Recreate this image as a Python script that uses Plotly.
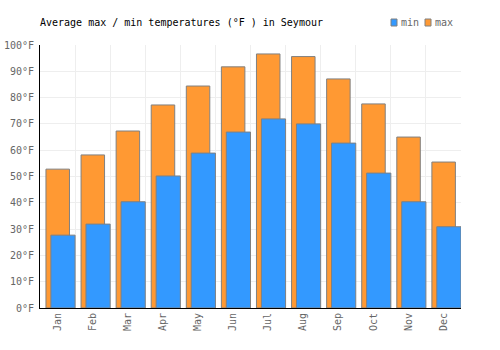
import plotly.graph_objects as go

months = ["Jan", "Feb", "Mar", "Apr", "May", "Jun", "Jul", "Aug", "Sep", "Oct", "Nov", "Dec"]
max_temps = [52.8, 58.2, 67.3, 77.2, 84.4, 91.7, 96.6, 95.6, 87.1, 77.6, 65.0, 55.5]
min_temps = [27.7, 31.9, 40.4, 50.2, 58.9, 66.9, 71.9, 70.0, 62.7, 51.3, 40.4, 30.9]
y_step = 10

FONT = "DejaVu Sans Mono"
ORANGE = "#ff9933"
BLUE = "#3399ff"
EDGE = "#808080"

fig = go.Figure()
fig.add_trace(go.Bar(
    x=months, y=max_temps, name="max",
    marker=dict(color=ORANGE, line=dict(color=EDGE, width=1)),
    offset=-0.33, width=0.67, hoverinfo="x+y",
))
fig.add_trace(go.Bar(
    x=months, y=min_temps, name="min",
    marker=dict(color=BLUE, line=dict(color=EDGE, width=1)),
    offset=-0.19, width=0.69, hoverinfo="x+y",
))

fig.update_layout(
    width=500, height=350,
    margin=dict(l=40, r=39, t=45, b=42),
    paper_bgcolor="white", plot_bgcolor="white",
    barmode="overlay",
    showlegend=False,
    font=dict(family=FONT, size=10, color="#666666"),
    title=dict(
        text="Average max / min temperatures (°F ) in Seymour",
        font=dict(family=FONT, size=10, color="#000000"),
        x=40 / 500, xanchor="left", xref="container",
        y=1 - 22 / 350, yanchor="middle", yref="container",
    ),
    xaxis=dict(
        type="category", tickson="boundaries", ticks="",
        showgrid=True, gridcolor="#eeeeee", gridwidth=1,
        showline=True, linecolor="#000000", linewidth=1,
        tickangle=-90, tickfont=dict(family=FONT, size=10, color="#666666"),
        automargin=False, fixedrange=True,
    ),
    yaxis=dict(
        range=[0, 100], tickmode="linear", tick0=0, dtick=y_step,
        ticksuffix="°F", showticksuffix="all", ticks="",
        showgrid=True, gridcolor="#eeeeee", gridwidth=1,
        showline=True, linecolor="#000000", linewidth=1,
        zeroline=False, ticklabelstandoff=3,
        tickfont=dict(family=FONT, size=10, color="#666666"),
        automargin=False, fixedrange=True,
    ),
)

# compact legend (top right)
legend_items = [("min", BLUE, 391), ("max", ORANGE, 425)]
for label, color, px in legend_items:
    fig.add_shape(
        type="rect", xref="paper", yref="paper",
        x0=(px - 40) / 421, x1=(px + 6 - 40) / 421,
        y0=(308 - 26) / 263, y1=(308 - 19) / 263,
        fillcolor=color, line=dict(color=EDGE, width=1),
    )
    fig.add_annotation(
        text=label, xref="paper", yref="paper",
        x=(px + 8 - 40) / 421, y=(308 - 22.5) / 263,
        xanchor="left", yanchor="middle", showarrow=False,
        font=dict(family=FONT, size=10, color="#666666"),
    )

fig.write_html("out.html")
